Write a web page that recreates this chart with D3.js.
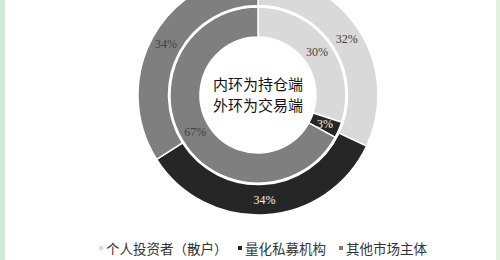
<!DOCTYPE html>
<html>
<head>
<meta charset="utf-8">
<script src="https://cdn.jsdelivr.net/npm/d3@7"></script>
<style>
  body { margin: 0; background: #ffffff; }
</style>
</head>
<body>
<div id="canvas"></div>
<script>
"use strict"

/* Data */
let categories = ["个人投资者（散户）", "量化私募机构", "其他市场主体"];
let innerValues = [30, 3, 67];   // 持仓端
let outerValues = [32, 34, 34];  // 交易端
let centerLines = ["内环为持仓端", "外环为交易端"];

let svgWidth = 500;
let svgHeight = 260;
let cx = 258;
let cy = 95;

let colors = d3.scaleOrdinal()
    .domain(categories)
    .range(["#d9d9d9", "#262626", "#7f7f7f"]);
let labelColors = ["#404040", "#f2f2f2", "#404040"];

let svg = d3.select("#canvas")
    .append("svg")
    .attr("width", svgWidth)
    .attr("height", svgHeight);

/* green side strips */
svg.append("rect")
    .attr("x", 0).attr("y", 0)
    .attr("width", 5).attr("height", svgHeight)
    .attr("fill", "#d4ead4");
svg.append("rect")
    .attr("x", 496).attr("y", 0)
    .attr("width", 4).attr("height", svgHeight)
    .attr("fill", "#e2f0e2");

let pie = d3.pie().sort(null).value(d => d);

let g = svg.append("g")
    .attr("transform", "translate(" + cx + "," + cy + ")");

function drawRing(values, r0, r1, labelR) {
    let arc = d3.arc().innerRadius(r0).outerRadius(r1);
    let labelArc = d3.arc().innerRadius(labelR).outerRadius(labelR);
    let arcs = pie(values);
    let ring = g.append("g");
    ring.selectAll("path")
        .data(arcs)
        .join("path")
        .attr("d", arc)
        .attr("fill", (d, i) => colors(categories[i]))
        .attr("stroke", "#ffffff")
        .attr("stroke-width", 1.5);
    ring.selectAll("text")
        .data(arcs)
        .join("text")
        .attr("transform", d => "translate(" + labelArc.centroid(d) + ")")
        .attr("text-anchor", "middle")
        .attr("dominant-baseline", "central")
        .attr("font-family", "Liberation Serif, serif")
        .attr("font-size", 12)
        .attr("fill", (d, i) => labelColors[i])
        .text(d => d.data + "%");
}

drawRing(innerValues, 58, 88, 73);
drawRing(outerValues, 89.5, 120, 105);

/* center text: two lines */
let center = g.append("text")
    .attr("text-anchor", "middle")
    .attr("font-family", "Noto Sans CJK SC, sans-serif")
    .attr("font-size", 15)
    .attr("fill", "#111111");
center.selectAll("tspan")
    .data(centerLines)
    .join("tspan")
    .attr("x", 0)
    .attr("y", (d, i) => -5.5 + i * 21.5)
    .text(d => d);

/* legend */
let legendX = [99, 238, 339];
let legend = svg.append("g");
categories.forEach(function (c, i) {
    legend.append("rect")
        .attr("x", legendX[i])
        .attr("y", 246)
        .attr("width", 4)
        .attr("height", 4)
        .attr("fill", colors(c));
    legend.append("text")
        .attr("x", legendX[i] + 7)
        .attr("y", 248)
        .attr("dominant-baseline", "central")
        .attr("font-family", "Noto Sans CJK SC, sans-serif")
        .attr("font-size", 13.5)
        .attr("fill", "#333333")
        .text(c);
});
</script>
</body>
</html>
